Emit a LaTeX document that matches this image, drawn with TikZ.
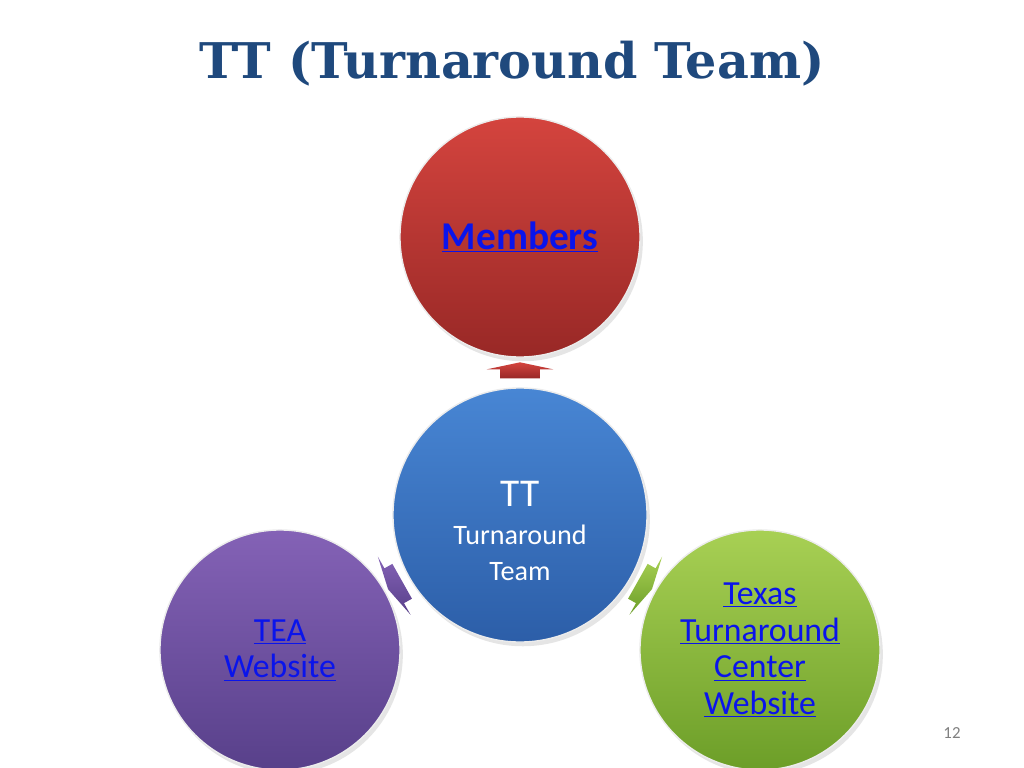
\documentclass[tikz,border=0pt]{standalone}
\usepackage{fontspec}
\setmainfont{Carlito}
\newfontfamily\slabfont{DejaVu Serif}
\usetikzlibrary{positioning,calc,shapes.arrows,shadows}
\definecolor{titleclr}{RGB}{31,73,125}
\definecolor{linkclr}{RGB}{10,20,235}
\definecolor{memtop}{RGB}{212,68,62}
\definecolor{membot}{RGB}{152,40,38}
\definecolor{tttop}{RGB}{72,134,212}
\definecolor{ttbot}{RGB}{44,94,168}
\definecolor{teatop}{RGB}{132,98,182}
\definecolor{teabot}{RGB}{88,64,138}
\definecolor{txtop}{RGB}{168,208,84}
\definecolor{txbot}{RGB}{108,158,40}
\tikzset{
  bubble/.style={circle,inner sep=0pt,minimum size=6cm,
                 draw=white!85!gray,line width=1pt,
                 drop shadow={shadow xshift=2pt,shadow yshift=-3pt,opacity=0.2}},
  joint/.style={single arrow,draw=none,inner xsep=0pt,inner ysep=14pt,
                minimum height=11.5pt,minimum width=47pt,
                single arrow head extend=9.5pt,single arrow tip angle=156,
                sloped,allow upside down,midway},
  link/.style={text=linkclr,align=center,font=\fontsize{24}{26}\selectfont},
}
\newcommand{\lnk}[1]{\underline{#1}}

\begin{document}
\begin{tikzpicture}[x=0.025cm,y=-0.025cm]
\fill[white] (0,0) rectangle (1024,768);
\clip (0,0) rectangle (1024,768);
\useasboundingbox (0,0) rectangle (1024,768);

\node[text=titleclr,font=\slabfont\bfseries\fontsize{35}{38}\selectfont]
  (title) at (512,64) {TT (Turnaround Team)};

% circles
\node[bubble,top color=memtop,bottom color=membot] (mem) at (520,237) {};
\node[bubble,top color=tttop,bottom color=ttbot,minimum size=6.35cm] (tt) at (520,515) {};
\node[bubble,top color=teatop,bottom color=teabot] (tea) at (280,650) {};
\node[bubble,top color=txtop,bottom color=txbot] (ttc) at (760,650) {};

% texts
\node[link,font=\bfseries\fontsize{28}{30}\selectfont] (memlbl) at (mem) {\lnk{Members}};
\node[text=white,align=center,font=\fontsize{20}{25}\selectfont] (ttlbl) at (520,531)
  {{\fontsize{28}{30}\selectfont TT}\\[2pt]Turnaround\\Team};
\node[link] (tealbl) at (tea) {\lnk{TEA}\\\lnk{Website}};
\node[link] (ttclbl) at (ttc) {\lnk{Texas}\\\lnk{Turnaround}\\\lnk{Center}\\\lnk{Website}};

% block arrows
\path (tt) -- (mem) node[joint,top color=memtop,bottom color=membot] (upjoint) {};
\path (tt) -- (tea) node[joint,top color=teatop,bottom color=teabot] (leftjoint) {};
\path (tt) -- (ttc) node[joint,top color=txtop,bottom color=txbot] (rightjoint) {};

\node[text=gray,font=\fontsize{12}{14}\selectfont] (pgno) at (952,733) {12};
\end{tikzpicture}
\end{document}
